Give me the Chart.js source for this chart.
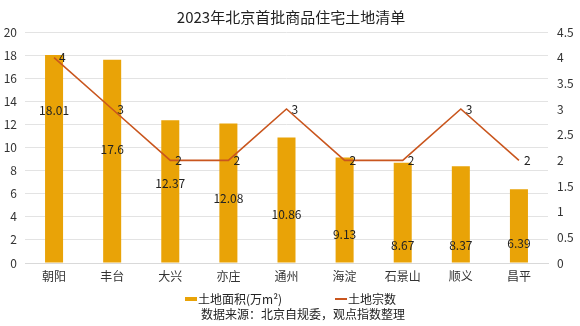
<!DOCTYPE html>
<html>
<head>
<meta charset="utf-8">
<script src="https://cdn.jsdelivr.net/npm/chart.js@4.4.1/dist/chart.umd.min.js"></script>
<style>
  html, body { margin: 0; padding: 0; background: #fff; }
  #wrap { width: 580px; height: 326px; position: relative; }
</style>
</head>
<body>
<div id="wrap"><canvas id="c" width="580" height="326"></canvas></div>
<script>
// 2023年北京首批商品住宅土地：各区土地面积与土地宗数
const districts = ['朝阳', '丰台', '大兴', '亦庄', '通州', '海淀', '石景山', '顺义', '昌平'];
const landArea = [18.01, 17.6, 12.37, 12.08, 10.86, 9.13, 8.67, 8.37, 6.39];
const landCount = [4, 3, 2, 2, 3, 2, 2, 3, 2];
const areaTicks = [0, 2, 4, 6, 8, 10, 12, 14, 16, 18, 20];
const countTicks = [0, 0.5, 1, 1.5, 2, 2.5, 3, 3.5, 4, 4.5];

const FONT = '"Noto Sans CJK SC", "Noto Sans", sans-serif';
const BAR_COLOR = '#E9A307';
const LINE_COLOR = '#C9561E';

// Title, value labels, legend and source note
const annotate = {
  id: 'annotate',
  afterDatasetsDraw(chart, args, opts) {
    const ctx = chart.ctx;
    const y = chart.scales.y;
    const bars = chart.getDatasetMeta(0).data;
    const pts = chart.getDatasetMeta(1).data;
    ctx.save();
    ctx.font = '12px ' + FONT;
    ctx.fillStyle = '#222';
    ctx.textAlign = 'center';
    ctx.textBaseline = 'middle';
    bars.forEach((b, i) => {
      ctx.fillText(String(landArea[i]), b.x, y.getPixelForValue(opts.barLabelAt[i]));
    });
    ctx.textAlign = 'left';
    pts.forEach((p, i) => {
      ctx.fillText(String(landCount[i]), p.x + 5, p.y);
    });
    ctx.restore();
  },
  afterDraw(chart) {
    const ctx = chart.ctx;
    ctx.save();
    ctx.fillStyle = '#222';
    ctx.textBaseline = 'middle';
    ctx.textAlign = 'center';
    ctx.font = '15px ' + FONT;
    ctx.fillText('2023年北京首批商品住宅土地清单', 291, 17);

    // legend
    ctx.font = '12px ' + FONT;
    ctx.textAlign = 'left';
    ctx.fillStyle = BAR_COLOR;
    ctx.fillRect(185, 297, 12, 4);
    ctx.fillStyle = '#222';
    ctx.fillText('土地面积(万m²)', 198, 299);
    ctx.strokeStyle = LINE_COLOR;
    ctx.lineWidth = 2;
    ctx.beginPath();
    ctx.moveTo(335, 299);
    ctx.lineTo(347, 299);
    ctx.stroke();
    ctx.fillText('土地宗数', 348, 299);

    ctx.textAlign = 'center';
    ctx.fillText('数据来源：北京自规委，观点指数整理', 303, 314);
    ctx.restore();
  }
};

new Chart(document.getElementById('c'), {
  data: {
    labels: districts,
    datasets: [
      {
        type: 'bar',
        label: '土地面积(万m²)',
        data: landArea,
        backgroundColor: BAR_COLOR,
        yAxisID: 'y',
        categoryPercentage: 0.31,
        barPercentage: 1,
        order: 2
      },
      {
        type: 'line',
        label: '土地宗数',
        data: landCount,
        borderColor: LINE_COLOR,
        borderWidth: 1.6,
        pointRadius: 0,
        tension: 0,
        yAxisID: 'y1',
        order: 1
      }
    ]
  },
  options: {
    responsive: false,
    animation: false,
    layout: { padding: { left: 0, right: 0, top: 32, bottom: 43 } },
    plugins: {
      legend: { display: false },
      title: { display: false },
      tooltip: { enabled: false },
      annotate: { barLabelAt: [13.2, 9.8, 6.9, 5.6, 4.2, 2.5, 1.5, 1.5, 1.7] }
    },
    scales: {
      x: {
        grid: { display: false, drawTicks: false },
        border: { display: true, color: '#D9D9D9' },
        ticks: { color: '#333', font: { family: FONT, size: 12 }, padding: 6, maxRotation: 0 },
        afterFit(s) { s.height = 20; }
      },
      y: {
        position: 'left',
        min: 0, max: 20,
        afterBuildTicks(s) { s.ticks = areaTicks.map(v => ({ value: v })); },
        grid: { color: '#E3E3E3', drawTicks: false },
        border: { display: false },
        ticks: { color: '#333', font: { family: FONT, size: 12 }, padding: 8 },
        afterFit(s) { s.width = 25; }
      },
      y1: {
        position: 'right',
        min: 0, max: 4.5,
        afterBuildTicks(s) { s.ticks = countTicks.map(v => ({ value: v })); },
        grid: { display: false, drawTicks: false },
        border: { display: false },
        ticks: {
          color: '#333', font: { family: FONT, size: 12 }, padding: 9,
          callback: v => String(v)
        },
        afterFit(s) { s.width = 32; }
      }
    }
  },
  plugins: [annotate]
});
</script>
</body>
</html>
